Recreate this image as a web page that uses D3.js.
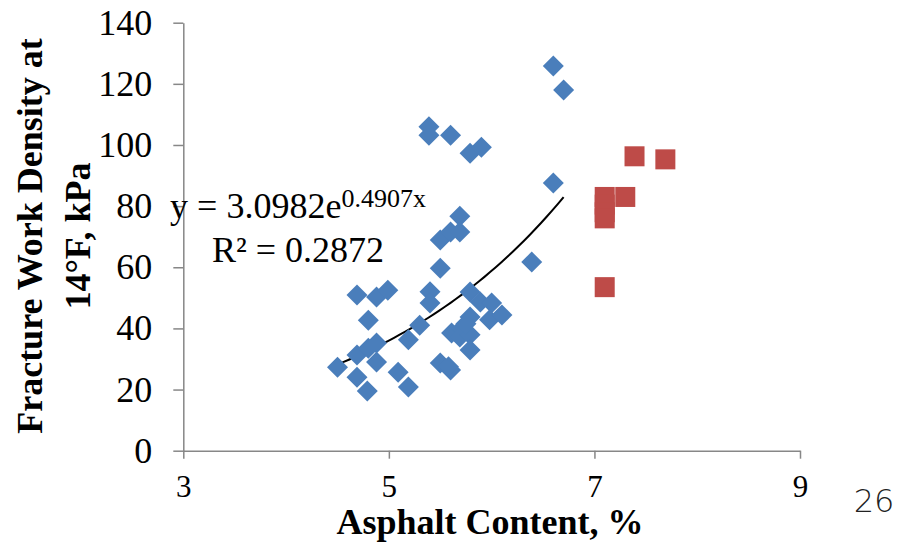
<!DOCTYPE html>
<html>
<head>
<meta charset="utf-8">
<script src="https://cdn.jsdelivr.net/npm/d3@7"></script>
<style>
  html, body { margin: 0; padding: 0; background: #fff; }
  svg { display: block; }
</style>
</head>
<body>
<svg class="chart"></svg>
<script>
// data
var blueX = [4.50, 4.69, 4.69, 4.69, 4.80, 4.80, 4.79, 4.88, 4.88, 4.88, 4.99, 5.09, 5.19, 5.19, 5.30,
  5.40, 5.40, 5.39, 5.39, 5.50, 5.50, 5.50, 5.60, 5.60, 5.61, 5.60, 5.58, 5.69, 5.69, 5.71, 5.69,
  5.79, 5.79, 5.79, 5.79, 5.79, 5.75, 5.90, 5.89, 6.00, 5.98, 6.10, 6.39, 6.60, 6.60, 6.70];
var blueY = [27.3, 31.3, 50.9, 24.0, 42.7, 33.5, 19.5, 35.2, 50.3, 29.0, 52.5, 25.7, 20.8, 36.3, 41.0,
  52.0, 48.3, 106.0, 103.2, 59.7, 68.9, 28.7, 103.2, 71.5, 38.5, 26.4, 27.5, 76.7, 71.5, 40.0, 37.2,
  43.7, 37.9, 32.9, 51.9, 97.3, 41.5, 99.3, 48.6, 48.3, 42.8, 44.4, 61.7, 87.6, 125.8, 118.0];
var redX = [7.39, 7.69, 7.10, 7.10, 7.10, 7.10, 7.30, 7.10];
var redY = [96.3, 95.3, 83.0, 80.5, 78.0, 76.0, 83.0, 53.5];
var xTicks = [3, 5, 7, 9];
var yTicks = [0, 20, 40, 60, 80, 100, 120, 140];
// exponential trendline shown on the chart
var trendA = 3.0982, trendB = 0.4907, trendRange = [4.5, 6.7];

var width = 907, height = 543;
var serif = "'Liberation Serif', 'Times New Roman', serif";

var svg = d3.select(".chart")
  .attr("width", width)
  .attr("height", height);

svg.append("rect").attr("width", width).attr("height", height).attr("fill", "#fff");

var x = d3.scaleLinear().domain([3, 9]).range([183.3, 800]);
var y = d3.scaleLinear().domain([0, 140]).range([450.7, 22.7]);

// axes
var xAxis = svg.append("g")
  .attr("transform", "translate(0," + y(0) + ")")
  .call(d3.axisBottom(x).tickValues(xTicks).tickFormat(d3.format("d"))
    .tickSizeInner(8).tickSizeOuter(0).tickPadding(16));

var yAxis = svg.append("g")
  .attr("transform", "translate(" + x(3) + ",0)")
  .call(d3.axisLeft(y).tickValues(yTicks).tickFormat(d3.format("d"))
    .tickSizeInner(10).tickSizeOuter(0).tickPadding(21));

[xAxis, yAxis].forEach(function(g) {
  g.selectAll("path, line").attr("stroke", "#878787").attr("stroke-width", 1.5);
  g.selectAll("text").attr("fill", "#000").style("font-family", serif);
});
yAxis.selectAll("text").style("font-size", "36px");
xAxis.selectAll("text").style("font-size", "31px");

// trendline
var trendPts = d3.range(0, 41).map(function(i) {
  var xv = trendRange[0] + (trendRange[1] - trendRange[0]) * i / 40;
  return [xv, trendA * Math.exp(trendB * xv)];
});
svg.append("path")
  .datum(trendPts)
  .attr("fill", "none")
  .attr("stroke", "#000")
  .attr("stroke-width", 2)
  .attr("d", d3.line().x(function(d) { return x(d[0]); }).y(function(d) { return y(d[1]); }));

// blue diamonds
var blue = blueX.map(function(v, i) { return { x: v, y: blueY[i] }; });
svg.selectAll(".blue")
  .data(blue)
  .enter()
  .append("path")
  .attr("class", "blue")
  .attr("d", "M0,-10.5L10.5,0L0,10.5L-10.5,0Z")
  .attr("transform", function(d) { return "translate(" + x(d.x) + "," + y(d.y) + ")"; })
  .attr("fill", "#4A7EBB");

// red squares
var red = redX.map(function(v, i) { return { x: v, y: redY[i] }; });
svg.selectAll(".red")
  .data(red)
  .enter()
  .append("rect")
  .attr("class", "red")
  .attr("x", function(d) { return x(d.x) - 10; })
  .attr("y", function(d) { return y(d.y) - 10; })
  .attr("width", 20)
  .attr("height", 20)
  .attr("fill", "#BE4B48");

// trendline equation
var eq = svg.append("text")
  .attr("x", 298).attr("y", 218)
  .attr("text-anchor", "middle")
  .style("font-family", serif)
  .style("font-size", "36px");
eq.append("tspan").text("y = 3.0982e");
eq.append("tspan").attr("dy", -11).style("font-size", "26px").text("0.4907x");

svg.append("text")
  .attr("x", 298).attr("y", 262)
  .attr("text-anchor", "middle")
  .style("font-family", serif)
  .style("font-size", "36px")
  .text("R² = 0.2872");

// axis titles
svg.append("text")
  .attr("x", 490).attr("y", 534)
  .attr("text-anchor", "middle")
  .style("font-family", serif)
  .style("font-size", "36px")
  .style("font-weight", "bold")
  .text("Asphalt Content, %");

var yTitle = svg.append("text")
  .attr("transform", "translate(0,236) rotate(-90)")
  .attr("text-anchor", "middle")
  .style("font-family", serif)
  .style("font-size", "36px")
  .style("font-weight", "bold");
yTitle.append("tspan").attr("x", 0).attr("y", 42).text("Fracture Work Density at");
yTitle.append("tspan").attr("x", 0).attr("y", 90).text("14°F, kPa");

// page number
svg.append("text")
  .attr("x", 874).attr("y", 512)
  .attr("text-anchor", "middle")
  .style("font-family", "'DejaVu Sans', sans-serif")
  .style("font-size", "32px")
  .style("font-weight", 300)
  .attr("fill", "#222")
  .text("26");
</script>
</body>
</html>
